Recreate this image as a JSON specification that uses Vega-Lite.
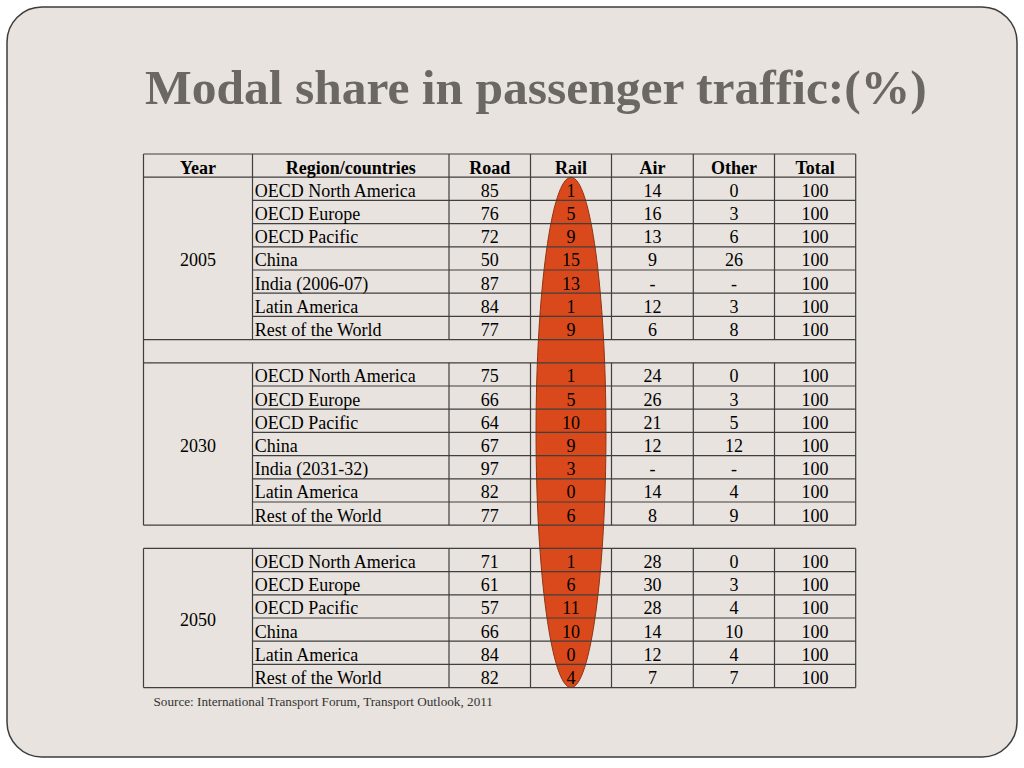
{
  "$schema": "https://vega.github.io/schema/vega-lite/v6.json",
  "width": 1010,
  "height": 750,
  "padding": {"left": 7, "top": 7, "right": 7, "bottom": 11},
  "autosize": {"type": "none"},
  "background": "#ffffff",
  "config": {
    "view": {"fill": "#e8e3de", "stroke": "#3d3d3d", "strokeWidth": 1.5, "cornerRadius": 35},
    "text": {"font": "Liberation Serif", "fontSize": 18, "color": "#000000", "baseline": "middle", "dy": 3}
  },
  "title": {
    "text": "Modal share in passenger traffic:(%)",
    "anchor": "start",
    "frame": "group",
    "font": "Liberation Serif",
    "fontSize": 49.5,
    "fontWeight": "bold",
    "color": "#6b6762",
    "baseline": "alphabetic",
    "offset": 0,
    "dx": 138,
    "dy": 146
  },
  "datasets": {
    "cols": [
      {"key": "Road", "ci": 2},
      {"key": "Rail", "ci": 3},
      {"key": "Air", "ci": 4},
      {"key": "Other", "ci": 5},
      {"key": "Total", "ci": 6}
    ],
    "header": [
      {"label": "Year", "ci": 0, "row": 0},
      {"label": "Region/countries", "ci": 1, "row": 0},
      {"label": "Road", "ci": 2, "row": 0},
      {"label": "Rail", "ci": 3, "row": 0},
      {"label": "Air", "ci": 4, "row": 0},
      {"label": "Other", "ci": 5, "row": 0},
      {"label": "Total", "ci": 6, "row": 0}
    ],
    "years": [
      {"year": "2005", "row": 4},
      {"year": "2030", "row": 12},
      {"year": "2050", "row": 19.5}
    ],
    "rows": [
      {"row": 1, "Region": "OECD North America", "Road": "85", "Rail": "1", "Air": "14", "Other": "0", "Total": "100"},
      {"row": 2, "Region": "OECD Europe", "Road": "76", "Rail": "5", "Air": "16", "Other": "3", "Total": "100"},
      {"row": 3, "Region": "OECD Pacific", "Road": "72", "Rail": "9", "Air": "13", "Other": "6", "Total": "100"},
      {"row": 4, "Region": "China", "Road": "50", "Rail": "15", "Air": "9", "Other": "26", "Total": "100"},
      {"row": 5, "Region": "India (2006-07)", "Road": "87", "Rail": "13", "Air": "-", "Other": "-", "Total": "100"},
      {"row": 6, "Region": "Latin America", "Road": "84", "Rail": "1", "Air": "12", "Other": "3", "Total": "100"},
      {"row": 7, "Region": "Rest of the World", "Road": "77", "Rail": "9", "Air": "6", "Other": "8", "Total": "100"},
      {"row": 9, "Region": "OECD North America", "Road": "75", "Rail": "1", "Air": "24", "Other": "0", "Total": "100"},
      {"row": 10, "Region": "OECD Europe", "Road": "66", "Rail": "5", "Air": "26", "Other": "3", "Total": "100"},
      {"row": 11, "Region": "OECD Pacific", "Road": "64", "Rail": "10", "Air": "21", "Other": "5", "Total": "100"},
      {"row": 12, "Region": "China", "Road": "67", "Rail": "9", "Air": "12", "Other": "12", "Total": "100"},
      {"row": 13, "Region": "India (2031-32)", "Road": "97", "Rail": "3", "Air": "-", "Other": "-", "Total": "100"},
      {"row": 14, "Region": "Latin America", "Road": "82", "Rail": "0", "Air": "14", "Other": "4", "Total": "100"},
      {"row": 15, "Region": "Rest of the World", "Road": "77", "Rail": "6", "Air": "8", "Other": "9", "Total": "100"},
      {"row": 17, "Region": "OECD North America", "Road": "71", "Rail": "1", "Air": "28", "Other": "0", "Total": "100"},
      {"row": 18, "Region": "OECD Europe", "Road": "61", "Rail": "6", "Air": "30", "Other": "3", "Total": "100"},
      {"row": 19, "Region": "OECD Pacific", "Road": "57", "Rail": "11", "Air": "28", "Other": "4", "Total": "100"},
      {"row": 20, "Region": "China", "Road": "66", "Rail": "10", "Air": "14", "Other": "10", "Total": "100"},
      {"row": 21, "Region": "Latin America", "Road": "84", "Rail": "0", "Air": "12", "Other": "4", "Total": "100"},
      {"row": 22, "Region": "Rest of the World", "Road": "82", "Rail": "4", "Air": "7", "Other": "7", "Total": "100"}
    ],
    "hlines": [
      {"y": -0.5, "from": -0.5, "to": 6.5},
      {"y": 0.5, "from": -0.5, "to": 6.5},
      {"y": 1.5, "from": 0.5, "to": 6.5},
      {"y": 2.5, "from": 0.5, "to": 6.5},
      {"y": 3.5, "from": 0.5, "to": 6.5},
      {"y": 4.5, "from": 0.5, "to": 6.5},
      {"y": 5.5, "from": 0.5, "to": 6.5},
      {"y": 6.5, "from": 0.5, "to": 6.5},
      {"y": 7.5, "from": -0.5, "to": 6.5},
      {"y": 8.5, "from": -0.5, "to": 6.5},
      {"y": 9.5, "from": 0.5, "to": 6.5},
      {"y": 10.5, "from": 0.5, "to": 6.5},
      {"y": 11.5, "from": 0.5, "to": 6.5},
      {"y": 12.5, "from": 0.5, "to": 6.5},
      {"y": 13.5, "from": 0.5, "to": 6.5},
      {"y": 14.5, "from": 0.5, "to": 6.5},
      {"y": 15.5, "from": -0.5, "to": 6.5},
      {"y": 16.5, "from": -0.5, "to": 6.5},
      {"y": 17.5, "from": 0.5, "to": 6.5},
      {"y": 18.5, "from": 0.5, "to": 6.5},
      {"y": 19.5, "from": 0.5, "to": 6.5},
      {"y": 20.5, "from": 0.5, "to": 6.5},
      {"y": 21.5, "from": 0.5, "to": 6.5},
      {"y": 22.5, "from": -0.5, "to": 6.5}
    ],
    "vlines": [
      {"x": -0.5, "from": -0.5, "to": 15.5},
      {"x": -0.5, "from": 16.5, "to": 22.5},
      {"x": 6.5, "from": -0.5, "to": 15.5},
      {"x": 6.5, "from": 16.5, "to": 22.5},
      {"x": 0.5, "from": -0.5, "to": 7.5},
      {"x": 0.5, "from": 8.5, "to": 15.5},
      {"x": 0.5, "from": 16.5, "to": 22.5},
      {"x": 1.5, "from": -0.5, "to": 7.5},
      {"x": 1.5, "from": 8.5, "to": 15.5},
      {"x": 1.5, "from": 16.5, "to": 22.5},
      {"x": 2.5, "from": -0.5, "to": 7.5},
      {"x": 2.5, "from": 8.5, "to": 15.5},
      {"x": 2.5, "from": 16.5, "to": 22.5},
      {"x": 3.5, "from": -0.5, "to": 7.5},
      {"x": 3.5, "from": 8.5, "to": 15.5},
      {"x": 3.5, "from": 16.5, "to": 22.5},
      {"x": 4.5, "from": -0.5, "to": 7.5},
      {"x": 4.5, "from": 8.5, "to": 15.5},
      {"x": 4.5, "from": 16.5, "to": 22.5},
      {"x": 5.5, "from": -0.5, "to": 7.5},
      {"x": 5.5, "from": 8.5, "to": 15.5},
      {"x": 5.5, "from": 16.5, "to": 22.5}
    ],
    "highlight": [{"mode": "Rail", "ci": 3, "mid": 11.5}],
    "source": [{"text": "Source: International Transport Forum, Transport Outlook, 2011", "row": 23}]
  },
  "layer": [
    {
      "data": {"name": "highlight"},
      "mark": {
        "type": "point",
        "filled": true,
        "shape": "M0,-1 C0.0757,-1 0.137,-0.5523 0.137,0 C0.137,0.5523 0.0757,1 0,1 C-0.0757,1 -0.137,0.5523 -0.137,0 C-0.137,-0.5523 -0.0757,-1 0,-1 Z",
        "size": 260500,
        "fill": "#d9491b",
        "stroke": "#8f3413",
        "strokeWidth": 1,
        "opacity": 1,
        "dx": 1
      },
      "encoding": {
        "x": {"field": "ci", "type": "quantitative", "axis": null,
              "scale": {"domain": [-0.5, 0.5, 1.5, 2.5, 3.5, 4.5, 5.5, 6.5], "range": [136.5, 245.5, 442, 523.5, 604.5, 686.3, 767.5, 848.7], "nice": false, "zero": false}},
        "y": {"field": "mid", "type": "quantitative", "axis": null,
              "scale": {"domain": [-0.5, 22.5], "range": [147, 680.6], "nice": false, "zero": false}}
      }
    },
    {
      "data": {"name": "hlines"},
      "mark": {"type": "rule", "color": "#3f3f3f", "strokeWidth": 1.2},
      "encoding": {
        "x": {"field": "from", "type": "quantitative", "axis": null},
        "x2": {"field": "to"},
        "y": {"field": "y", "type": "quantitative", "axis": null}
      }
    },
    {
      "data": {"name": "vlines"},
      "mark": {"type": "rule", "color": "#3f3f3f", "strokeWidth": 1.2},
      "encoding": {
        "x": {"field": "x", "type": "quantitative", "axis": null},
        "y": {"field": "from", "type": "quantitative", "axis": null},
        "y2": {"field": "to"}
      }
    },
    {
      "data": {"name": "header"},
      "mark": {"type": "text", "fontWeight": "bold", "align": "center"},
      "encoding": {
        "x": {"field": "ci", "type": "quantitative", "axis": null},
        "y": {"field": "row", "type": "quantitative", "axis": null},
        "text": {"field": "label"}
      }
    },
    {
      "data": {"name": "years"},
      "mark": {"type": "text", "align": "center"},
      "encoding": {
        "x": {"datum": 0, "type": "quantitative", "axis": null},
        "y": {"field": "row", "type": "quantitative", "axis": null},
        "text": {"field": "year"}
      }
    },
    {
      "data": {"name": "rows"},
      "mark": {"type": "text", "align": "left", "dx": -96},
      "encoding": {
        "x": {"datum": 1, "type": "quantitative", "axis": null},
        "y": {"field": "row", "type": "quantitative", "axis": null},
        "text": {"field": "Region"}
      }
    },
    {
      "data": {"name": "rows"},
      "transform": [
        {"fold": ["Road", "Rail", "Air", "Other", "Total"], "as": ["key", "value"]},
        {"lookup": "key", "from": {"data": {"name": "cols"}, "key": "key", "fields": ["ci"]}}
      ],
      "mark": {"type": "text", "align": "center"},
      "encoding": {
        "x": {"field": "ci", "type": "quantitative", "axis": null},
        "y": {"field": "row", "type": "quantitative", "axis": null},
        "text": {"field": "value"}
      }
    },
    {
      "data": {"name": "source"},
      "mark": {"type": "text", "align": "left", "fontSize": 13.2, "color": "#333333", "dx": 10},
      "encoding": {
        "x": {"datum": -0.5, "type": "quantitative", "axis": null},
        "y": {"field": "row", "type": "quantitative", "axis": null},
        "text": {"field": "text"}
      }
    }
  ]
}
